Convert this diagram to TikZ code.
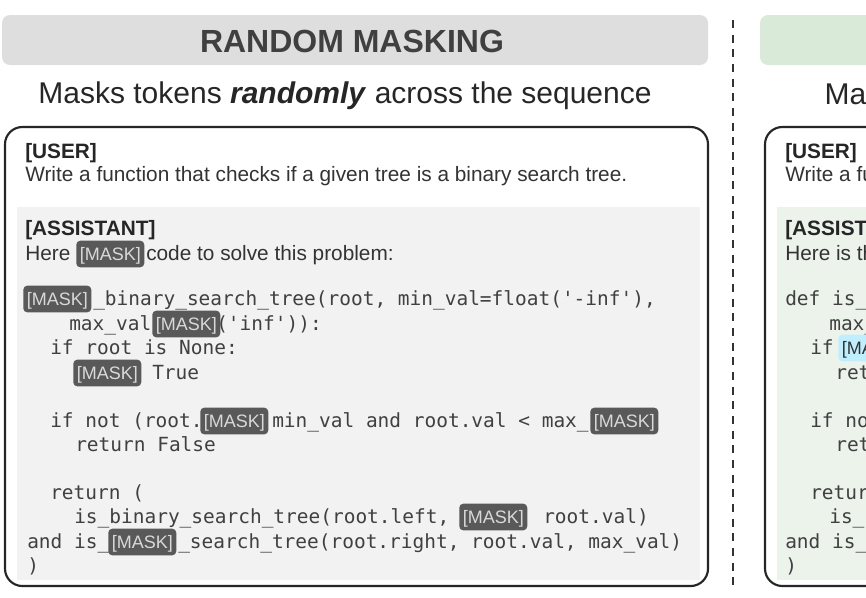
\documentclass[tikz,border=0pt]{standalone}
\usepackage{fontspec}
\setmainfont{Liberation Sans}
\newfontfamily\codef{DejaVu Sans Mono}
\begin{document}
\begin{tikzpicture}[x=0.75pt,y=-0.75pt,
  code/.style={anchor=base west,inner sep=0pt,font=\codef\fontsize{14.6}{16}\selectfont,text=black!75},
  txt/.style={anchor=base west,inner sep=0pt,font=\fontsize{15.6}{18}\selectfont,text=black!80},
  hd/.style={anchor=base west,inner sep=0pt,font=\bfseries\fontsize{15.6}{18}\selectfont,text=black!85},
  mask/.style={anchor=west,fill=black!65,text=black!15,rounded corners=3pt,inner sep=0pt,minimum width=51pt,minimum height=20pt,text height=9.6pt,text depth=0pt,font=\fontsize{13.5}{15}\selectfont},
  bmask/.style={mask,fill=blue!25!cyan!25,text=black!80},
  panel/.style={draw=black!85,line width=1.6pt,rounded corners=13pt},
]
\useasboundingbox (0,0) rectangle (866,597);
\clip (0,0) rectangle (866,597);
% left header
\fill[black!13,rounded corners=6pt] (2,15) rectangle (708,65);
\node[font=\bfseries\fontsize{24}{28}\selectfont,text=black!75] (t1) at (352,41) {RANDOM MASKING};
\node[font=\fontsize{22.5}{26}\selectfont,text=black!85] (s1) at (345,96) {Masks tokens \textbf{\textit{randomly}} across the sequence};
\draw[panel,fill=white] (5,127) rectangle (708,586);
\fill[black!5] (17,207) rectangle (700,580);
\node[hd] (u1) at (25,158) {[USER]};
\node[txt] (w1) at (25,181) {Write a function that checks if a given tree is a binary search tree.};
\node[hd] (a1) at (25,235) {[ASSISTANT]};
\node[txt] (h1) at (25,260) {Here};
\node[mask] (m0) at (76,254) {[MASK]};
\node[txt] (h2) at (146,260) {code to solve this problem:};
% code
\node[mask] (m1) at (23,299) {[MASK]};
\node[code] (c1) at (93,305) {\_binary\_search\_tree(root, min\_val=float('-inf'),};
\node[code] (c2) at (69,330) {max\_val};
\node[mask] (m2) at (152,324) {[MASK]};
\node[code] (c2b) at (216,330) {('inf')):};
\node[code] (c3) at (50,354) {if root is None:};
\node[mask] (m3) at (73,373) {[MASK]};
\node[code] (c4) at (152,379) {True};
\node[code] (c5) at (50,427) {if not (root.};
\node[mask] (m4) at (200,421) {[MASK]};
\node[code] (c5b) at (272,427) {min\_val and root.val < max\_};
\node[mask] (m5) at (590,421) {[MASK]};
\node[code] (c6) at (75,451) {return False};
\node[code] (c7) at (50,499) {return (};
\node[code] (c8) at (74,523) {is\_binary\_search\_tree(root.left,};
\node[mask] (m6) at (459,517) {[MASK]};
\node[code] (c8b) at (543,523) {root.val)};
\node[code] (c9) at (27,548) {and is\_};
\node[mask] (m7) at (108,542) {[MASK]};
\node[code] (c9b) at (178,548) {\_search\_tree(root.right, root.val, max\_val)};
\node[code] (c10) at (27,572) {)};
% divider
\coordinate (d1) at (733,20);
\coordinate (d2) at (733,588);
\draw[black!80,line width=2.2pt,dash pattern=on 6pt off 5pt] (d1) -- (d2);
% right panel (cut off)
\fill[green!45!black!15!white,rounded corners=6pt] (760,15) rectangle (1460,65);
\node[font=\fontsize{22.5}{26}\selectfont,text=black!85,anchor=base west] (s2) at (820,104) {Masks tokens};
\draw[panel,fill=white] (765,127) rectangle (1470,586);
\fill[green!40!black!8!white] (777,207) rectangle (1460,580);
\node[hd] (u2) at (785,158) {[USER]};
\node[txt] (w2) at (785,181) {Write a function that checks if a given tree is a binary search tree.};
\node[hd] (a2) at (785,235) {[ASSISTANT]};
\node[txt] (h3) at (785,260) {Here is the code to solve this problem:};
\node[code] (r1) at (785,305) {def is\_binary\_search\_tree(root, min\_val=float('-inf'),};
\node[code] (r2) at (829,330) {max\_val=float('inf')):};
\node[code] (r3) at (810,354) {if};
\node[bmask] (bm) at (838,348) {[MASK]};
\node[code] (r4) at (835,379) {return True};
\node[code] (r5) at (810,427) {if not (root.val > min\_val};
\node[code] (r6) at (835,451) {return False};
\node[code] (r7) at (810,499) {return (};
\node[code] (r8) at (829,523) {is\_binary\_search\_tree(root.left};
\node[code] (r9) at (785,548) {and is\_binary\_search\_tree(root.right};
\node[code] (r10) at (785,572) {)};
\end{tikzpicture}
\end{document}
